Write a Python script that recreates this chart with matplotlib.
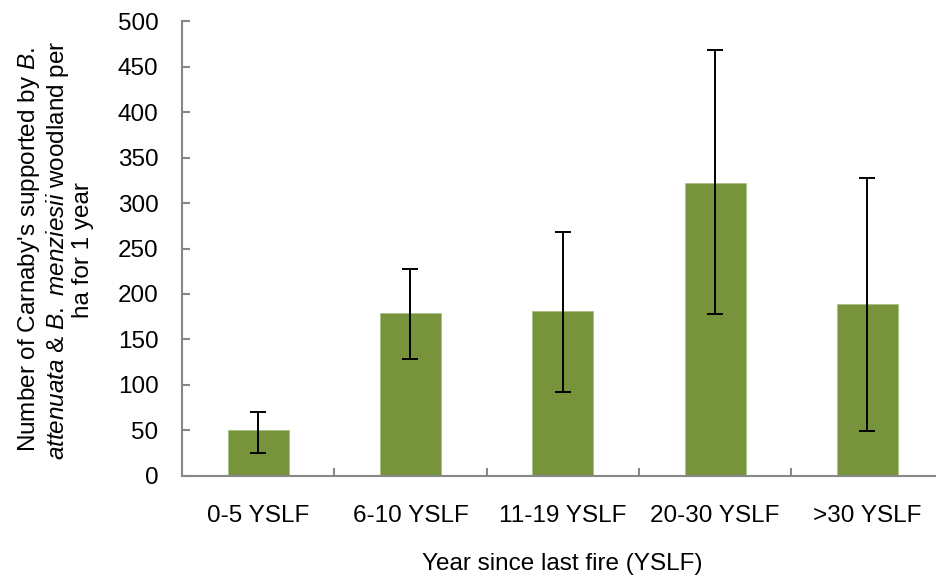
import numpy as np
import matplotlib
matplotlib.use('Agg')
import matplotlib.pyplot as plt

plt.rcParams['font.family'] = ['Liberation Sans', 'DejaVu Sans']
plt.rcParams['mathtext.fontset'] = 'custom'
plt.rcParams['mathtext.rm'] = 'Liberation Sans'
plt.rcParams['mathtext.it'] = 'Liberation Sans:italic'

# data
categories = ['0-5 YSLF', '6-10 YSLF', '11-19 YSLF', '20-30 YSLF', '>30 YSLF']
means = [50, 179, 181, 322, 189]
err_low = [25, 128, 92, 178, 49]
err_high = [70, 227, 268, 468, 328]

means = np.array(means)
yerr = np.array([means - np.array(err_low), np.array(err_high) - means])

fig = plt.figure(figsize=(9.37, 5.78), dpi=100)
ax = fig.add_axes([182 / 937, 1 - 475.7 / 578, (943.5 - 182) / 937, (475.7 - 21.3) / 578])

x = np.arange(len(categories))
ax.bar(x, means, width=0.4, color='#77933C', edgecolor='#a9bf82', linewidth=0.6, zorder=2)
ax.errorbar(x, means, yerr=yerr, fmt='none', ecolor='black', elinewidth=1.4,
            capsize=6, capthick=1.4, zorder=3)

ax.set_xlim(-0.5, len(categories) - 0.5)
ax.set_ylim(0, 500)
ax.set_yticks(np.arange(0, 501, 50))
ax.set_xticks(x)
ax.set_xticklabels(categories)
ax.set_xticks(np.arange(-0.5, len(categories), 1), minor=True)

for s in ['top', 'right']:
    ax.spines[s].set_visible(False)
for s in ['left', 'bottom']:
    ax.spines[s].set_color('#878787')
    ax.spines[s].set_linewidth(1.5)

fs = 17.5
ax.tick_params(axis='y', direction='in', length=6, width=1.5, color='#878787',
               labelsize=fs, pad=17)
ax.tick_params(axis='x', which='major', length=0, labelsize=fs, pad=21)
ax.tick_params(axis='x', which='minor', direction='in', length=6, width=1.5, color='#878787')

fig.text((182 + 943.5) / 2 / 937, 1 - 564 / 578, 'Year since last fire (YSLF)',
         ha='center', va='center', fontsize=fs)

ylab = ("Number of Carnaby's supported by $\\mathit{B.}$\n"
        "$\\mathit{attenuata}$ & $\\mathit{B.\\ menziesii}$ woodland per\n"
        "ha for 1 year")
fig.text(55 / 937, 1 - 250 / 578, ylab, rotation=90, ha='center', va='center',
         fontsize=fs, multialignment='center', linespacing=1.1)

fig.savefig('out.png', dpi=100)
